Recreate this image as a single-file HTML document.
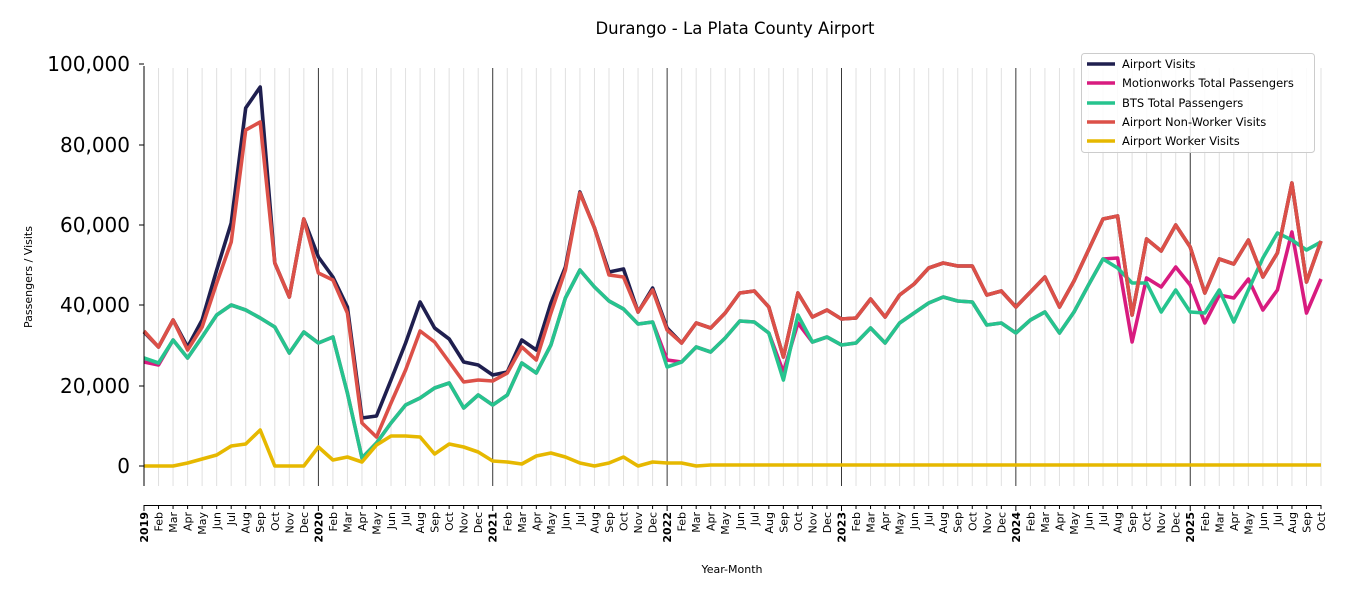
<!DOCTYPE html>
<html><head><meta charset="utf-8"><style>
body{margin:0;background:#fff;}
svg{display:block;font-family:"DejaVu Sans","Liberation Sans",sans-serif;}
</style></head><body>
<svg id="c" width="1350" height="600" viewBox="0 0 1350 600" xmlns="http://www.w3.org/2000/svg">
<rect width="1350" height="600" fill="#fff"/>
<text x="735" y="34" text-anchor="middle" font-size="16.5" fill="#000">Durango - La Plata County Airport</text>
<g id="grid"></g>
<g id="lines" fill="none" stroke-width="3.6" stroke-linejoin="round"></g>
<line x1="144" y1="66" x2="144" y2="486" stroke="#000" stroke-width="1"/>
<line x1="144" y1="505.5" x2="1321" y2="505.5" stroke="#000" stroke-width="1"/>
<g font-size="20" text-anchor="end" fill="#000">
<text x="130" y="473">0</text><text x="130" y="393">20,000</text><text x="130" y="312">40,000</text>
<text x="130" y="232">60,000</text><text x="130" y="152">80,000</text><text x="130" y="71">100,000</text>
</g>
<g stroke="#000"><line x1="139" x2="144" y1="466" y2="466"/><line x1="139" x2="144" y1="386" y2="386"/><line x1="139" x2="144" y1="305" y2="305"/><line x1="139" x2="144" y1="225" y2="225"/><line x1="139" x2="144" y1="145" y2="145"/><line x1="139" x2="144" y1="64" y2="64"/></g>
<g id="xt" font-size="11" fill="#000"></g>
<text transform="translate(32,277) rotate(-90)" text-anchor="middle" font-size="11">Passengers / Visits</text>
<text x="732" y="573" text-anchor="middle" font-size="11">Year-Month</text>
<rect x="1081.5" y="53.5" width="233" height="99" rx="3" fill="#fff" fill-opacity="0.85" stroke="#ccc"/>
<g font-size="11.5" fill="#000">
<line x1="1087" x2="1115" y1="64" y2="64" stroke="#1f1f4f" stroke-width="3.6"/><text x="1122" y="68">Airport Visits</text>
<line x1="1087" x2="1115" y1="83" y2="83" stroke="#d81b7f" stroke-width="3.6"/><text x="1122" y="87">Motionworks Total Passengers</text>
<line x1="1087" x2="1115" y1="103" y2="103" stroke="#26c48e" stroke-width="3.6"/><text x="1122" y="107">BTS Total Passengers</text>
<line x1="1087" x2="1115" y1="122" y2="122" stroke="#dc5048" stroke-width="3.6"/><text x="1122" y="126">Airport Non-Worker Visits</text>
<line x1="1087" x2="1115" y1="141" y2="141" stroke="#e6b800" stroke-width="3.6"/><text x="1122" y="145">Airport Worker Visits</text>
</g>
</svg>
<script>
var X=function(i){return 144+i*14.531;};
var red=[331,347,320,350,327,283,242,130,122,263,297,219,273,280,313,423,437,403,370,331,342,362,382,380,381,373,347,
360,313,270,193,228,275,277,312,290,330,343,323,328,313,293,291,307,357,293,317,310,319,318,299,317,295,284,
268,263,266,266,295,291,307,292,277,307,281,250,219,216,315,239,251,225,247,293,259,264,240,277,253,183,282,241];
var navy=red.slice();
var nv=[332,347,320,347,320,270,223,108,87,263,297,219,257,277,307,418,416,380,343,302,328,339,362,365,375,372,340,350,303,267,192,228,272,269,312,288,328];
for(var i=0;i<nv.length;i++)navy[i]=nv[i];
var green=[358,363,340,358,337,315,305,310,318,327,353,332,343,337,393,458,443,423,405,398,388,383,408,395,405,395,363,
373,345,298,270,287,301,309,324,322,367,362,347,352,338,321,322,333,380,315,342,337,345,343,328,343,323,313,
303,297,301,302,325,323,333,320,312,333,312,285,259,268,283,283,312,290,312,313,290,322,290,258,233,240,250,242];
var mag=green.slice();
var md={0:362,1:365,36:360,44:372,45:323,66:259,67:258,68:342,69:278,70:287,71:267,72:285,73:323,74:295,75:298,76:279,77:310,78:290,79:232,80:313,81:279};
for(var k in md)mag[k]=md[k];
var yel=[466,466,466,463,459,455,446,444,430,466,466,466,447,460,457,462,445,436,436,437,454,444,447,452,461,462,464,456,
453,457,463,466,463,457,466,462,463,463,466];
while(yel.length<82)yel.push(465);
var ns="http://www.w3.org/2000/svg";
var g=document.getElementById("grid"),L=document.getElementById("lines"),xt=document.getElementById("xt");
var mon=["Jan","Feb","Mar","Apr","May","Jun","Jul","Aug","Sep","Oct","Nov","Dec"];
for(var i=0;i<82;i++){
 var x=X(i),yr=i%12==0;
 var l=document.createElementNS(ns,"line");
 l.setAttribute("x1",x);l.setAttribute("x2",x);l.setAttribute("y1",68);l.setAttribute("y2",486);
 l.setAttribute("stroke",yr?"#222":"#e0e0e0");l.setAttribute("stroke-width",yr?0.9:1);
 if(i>0||!yr)g.appendChild(l);
 var t=document.createElementNS(ns,"line");
 t.setAttribute("x1",x);t.setAttribute("x2",x);t.setAttribute("y1",505);t.setAttribute("y2",yr?511:509);t.setAttribute("stroke","#000");xt.appendChild(t);
 var tx=document.createElementNS(ns,"text");
 tx.setAttribute("transform","translate("+(x+4)+",512) rotate(-90)");
 tx.setAttribute("text-anchor","end");
 if(yr){tx.setAttribute("font-weight","bold");tx.textContent=String(2019+i/12);}else tx.textContent=mon[i%12];
 xt.appendChild(tx);
}
function line(arr,col){var p=document.createElementNS(ns,"polyline");
 p.setAttribute("points",arr.map(function(v,i){return X(i).toFixed(1)+","+v;}).join(" "));
 p.setAttribute("stroke",col);L.appendChild(p);}
line(navy,"#1f1f4f");line(mag,"#d81b7f");line(green,"#26c48e");line(red,"#dc5048");line(yel,"#e6b800");
</script>
</body></html>
